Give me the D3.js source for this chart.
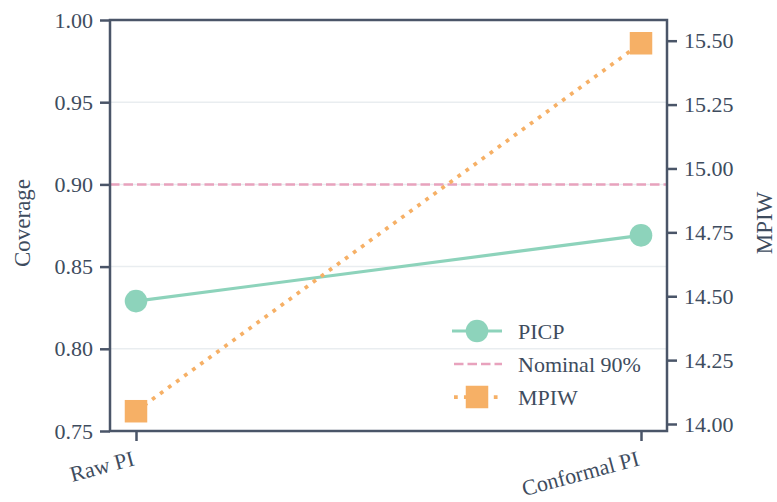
<!DOCTYPE html>
<html>
<head>
<meta charset="utf-8">
<script src="https://cdn.jsdelivr.net/npm/d3@7/dist/d3.min.js"></script>
<style>
  html, body { margin: 0; padding: 0; background: #ffffff; }
  svg { display: block; }
  svg text { font-family: "Liberation Serif", "Times New Roman", Times, "DejaVu Serif", serif !important; fill: #3e4c5e; }
</style>
</head>
<body>
<svg id="chart" width="777" height="502"></svg>
<script>
// Prediction-interval comparison data
const methods = ["Raw PI", "Conformal PI"];
const picp = [0.829, 0.869];
const mpiw = [14.05, 15.49];
const nominal = 0.90;
const coverageTicks = [0.75, 0.80, 0.85, 0.90, 0.95, 1.00];
const widthTicks = [14.00, 14.25, 14.50, 14.75, 15.00, 15.25, 15.50];
const legendLabels = ["PICP", "Nominal 90%", "MPIW"];

const colors = { picp: "#8dd3bb", nominal: "#e8a2bd", mpiw: "#f6b066", axis: "#4a5568", grid: "#e9edf0" };

const svg = d3.select("#chart");
const m = { left: 110, right: 110, top: 20, bottom: 71 };
const W = 777, H = 502;
const pw = W - m.left - m.right, ph = H - m.top - m.bottom;
const g = svg.append("g").attr("transform", `translate(${m.left},${m.top})`);

// categories inset from the spines by a fixed pad
const xPad = 26;
const x = d3.scalePoint().domain(methods).range([xPad, pw - xPad]);

const yL = d3.scaleLinear().domain([0.75, 1.00]).range([ph, 0]);
const yR = d3.scaleLinear().domain([13.9726, 15.581]).range([ph, 0]);

// gridlines on the coverage axis
g.append("g").selectAll("line").data(coverageTicks.slice(1, -1)).join("line")
  .attr("x1", 0).attr("x2", pw)
  .attr("y1", d => yL(d)).attr("y2", d => yL(d))
  .attr("stroke", colors.grid).attr("stroke-width", 1.5);

// nominal coverage reference
g.append("line")
  .attr("x1", 0).attr("x2", pw)
  .attr("y1", yL(nominal)).attr("y2", yL(nominal))
  .attr("stroke", colors.nominal).attr("stroke-width", 2.5)
  .attr("stroke-dasharray", "9.5 4");

// PICP line + circles
g.append("path")
  .datum(methods.map((d, i) => [x(d), yL(picp[i])]))
  .attr("d", d3.line())
  .attr("fill", "none").attr("stroke", colors.picp).attr("stroke-width", 3.2);
g.selectAll("circle.picp").data(methods).join("circle")
  .attr("class", "picp")
  .attr("cx", d => x(d)).attr("cy", (d, i) => yL(picp[i]))
  .attr("r", 11.3).attr("fill", colors.picp);

// MPIW dotted line + squares
g.append("path")
  .datum(methods.map((d, i) => [x(d), yR(mpiw[i])]))
  .attr("d", d3.line())
  .attr("fill", "none").attr("stroke", colors.mpiw).attr("stroke-width", 3.75)
  .attr("stroke-dasharray", "3.75 6.2");
const sq = 22.5;
g.selectAll("rect.mpiw").data(methods).join("rect")
  .attr("class", "mpiw")
  .attr("x", d => x(d) - sq / 2).attr("y", (d, i) => yR(mpiw[i]) - sq / 2)
  .attr("width", sq).attr("height", sq).attr("fill", colors.mpiw);

// spines
g.append("rect").attr("x", 0).attr("y", 0).attr("width", pw).attr("height", ph)
  .attr("fill", "none").attr("stroke", colors.axis).attr("stroke-width", 2.5);

// axes
const styleAxis = sel => {
  sel.attr("font-family", null).attr("font-size", null);
  sel.select(".domain").remove();
  sel.selectAll(".tick line").attr("stroke", colors.axis).attr("stroke-width", 2.5);
  sel.selectAll(".tick text").attr("font-size", 22).attr("fill", "#3e4c5e");
};

g.append("g")
  .call(d3.axisLeft(yL).tickValues(coverageTicks).tickFormat(d3.format(".2f")).tickSize(10).tickPadding(7))
  .call(styleAxis);

g.append("g").attr("transform", `translate(${pw},0)`)
  .call(d3.axisRight(yR).tickValues(widthTicks).tickFormat(d3.format(".2f")).tickSize(10).tickPadding(7))
  .call(styleAxis);

const xAxis = g.append("g").attr("transform", `translate(0,${ph})`)
  .call(d3.axisBottom(x).tickSize(10).tickPadding(8))
  .call(styleAxis);
xAxis.selectAll(".tick text")
  .attr("text-anchor", "end").attr("y", 0).attr("dy", 0)
  .attr("transform", "translate(-1,34) rotate(-15)");

// axis titles
svg.append("text")
  .attr("transform", `translate(30,223) rotate(-90)`)
  .attr("text-anchor", "middle").attr("font-size", 23).text("Coverage");
svg.append("text")
  .attr("transform", `translate(772,223) rotate(-90)`)
  .attr("text-anchor", "middle").attr("font-size", 23).text("MPIW");

// legend
const lg = svg.append("g").attr("transform", "translate(452,0)");
const rows = [331, 364, 397];
const hw = 50;
// PICP
lg.append("line").attr("x1", 0).attr("x2", hw).attr("y1", rows[0]).attr("y2", rows[0])
  .attr("stroke", colors.picp).attr("stroke-width", 3.2);
lg.append("circle").attr("cx", hw / 2).attr("cy", rows[0]).attr("r", 11.3).attr("fill", colors.picp);
// Nominal
lg.append("line").attr("x1", 2).attr("x2", hw).attr("y1", rows[1]).attr("y2", rows[1])
  .attr("stroke", colors.nominal).attr("stroke-width", 2.5).attr("stroke-dasharray", "9.5 4");
// MPIW
lg.append("line").attr("x1", 2).attr("x2", hw).attr("y1", rows[2]).attr("y2", rows[2])
  .attr("stroke", colors.mpiw).attr("stroke-width", 3.75).attr("stroke-dasharray", "3.75 6.2");
lg.append("rect").attr("x", hw / 2 - sq / 2).attr("y", rows[2] - sq / 2)
  .attr("width", sq).attr("height", sq).attr("fill", colors.mpiw);
lg.selectAll("text.lab").data(legendLabels).join("text")
  .attr("class", "lab")
  .attr("x", 66).attr("y", (d, i) => rows[i]).attr("dy", "0.35em")
  .attr("font-size", 22).text(d => d);
</script>
</body>
</html>
